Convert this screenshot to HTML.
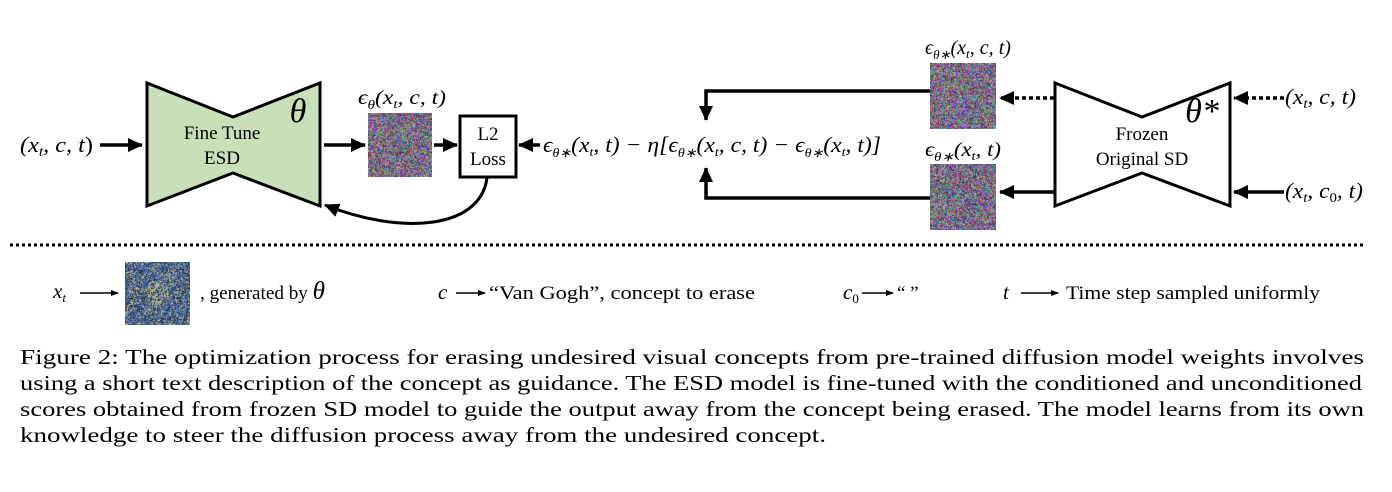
<!DOCTYPE html>
<html><head><meta charset="utf-8">
<style>
html,body{margin:0;padding:0;background:#fff;width:1392px;height:492px;overflow:hidden}
svg{position:absolute;left:0;top:0}
canvas{position:absolute}
svg text{font-family:"Liberation Serif","Times New Roman",serif !important;fill:#000}
.i{font-style:italic}
</style></head><body>
<svg width="1392" height="492" viewBox="0 0 1392 492">
<defs>
<marker id="as" markerWidth="8" markerHeight="8" refX="7" refY="4" orient="auto" markerUnits="userSpaceOnUse">
<path d="M0,1 L8,4 L0,7 z" fill="#000"/></marker>
<marker id="ab" markerWidth="16" markerHeight="16" refX="14" refY="8" orient="auto" markerUnits="userSpaceOnUse">
<path d="M0,1 L15,8 L0,15 z" fill="#000"/></marker>
</defs>
<text x="20" y="152" font-size="22" textLength="73" lengthAdjust="spacingAndGlyphs"><tspan class="i">(x</tspan><tspan class="i" font-size="14" dy="4">t</tspan><tspan dy="-4" class="i">, c, t</tspan>)</text>
<line x1="100" y1="145" x2="142" y2="145" stroke="#000" stroke-width="3.5" marker-end="url(#ab)"/>
<polygon points="147,83 233,117 320,83 320,206 233,173 147,206" fill="#c9dfba" stroke="#000" stroke-width="3"/>
<text x="298" y="122" font-size="34" class="i" text-anchor="middle">θ</text>
<text x="222" y="139" font-size="19" text-anchor="middle">Fine Tune</text>
<text x="222" y="164" font-size="19" text-anchor="middle">ESD</text>
<line x1="324" y1="145" x2="365" y2="145" stroke="#000" stroke-width="3.5" marker-end="url(#ab)"/>
<text x="358" y="104" font-size="20" class="i" textLength="88" lengthAdjust="spacingAndGlyphs">ϵ<tspan font-size="13" dy="5">θ</tspan><tspan dy="-5">(x</tspan><tspan font-size="13" dy="4">t</tspan><tspan dy="-4">, c, t)</tspan></text>
<line x1="434" y1="145" x2="457" y2="145" stroke="#000" stroke-width="3.5" marker-end="url(#ab)"/>
<rect x="460" y="116" width="56" height="61" fill="#fff" stroke="#000" stroke-width="3"/>
<text x="488" y="140" font-size="19" text-anchor="middle">L2</text>
<text x="488" y="165" font-size="19" text-anchor="middle">Loss</text>
<line x1="540" y1="145" x2="519" y2="145" stroke="#000" stroke-width="3.5" marker-end="url(#ab)"/>
<path d="M487,178 C480,230 400,235 325,205" fill="none" stroke="#000" stroke-width="3" marker-end="url(#ab)"/>
<text x="543" y="152" font-size="22" class="i" textLength="338" lengthAdjust="spacingAndGlyphs">ϵ<tspan font-size="13" dy="5">θ∗</tspan><tspan dy="-5">(x</tspan><tspan font-size="13" dy="4">t</tspan><tspan dy="-4">, t) − η[ϵ</tspan><tspan font-size="13" dy="5">θ∗</tspan><tspan dy="-5">(x</tspan><tspan font-size="13" dy="4">t</tspan><tspan dy="-4">, c, t) − ϵ</tspan><tspan font-size="13" dy="5">θ∗</tspan><tspan dy="-5">(x</tspan><tspan font-size="13" dy="4">t</tspan><tspan dy="-4">, t)]</tspan></text>
<polyline points="930,91 706,91 706,120" fill="none" stroke="#000" stroke-width="3.5" marker-end="url(#ab)"/>
<polyline points="930,198 706,198 706,168" fill="none" stroke="#000" stroke-width="3.5" marker-end="url(#ab)"/>
<text x="925" y="54" font-size="20" class="i" textLength="86" lengthAdjust="spacingAndGlyphs">ϵ<tspan font-size="13" dy="5">θ∗</tspan><tspan dy="-5">(x</tspan><tspan font-size="13" dy="4">t</tspan><tspan dy="-4">, c, t)</tspan></text>
<text x="925" y="156" font-size="20" class="i" textLength="76" lengthAdjust="spacingAndGlyphs">ϵ<tspan font-size="13" dy="5">θ∗</tspan><tspan dy="-5">(x</tspan><tspan font-size="13" dy="4">t</tspan><tspan dy="-4">, t)</tspan></text>
<line x1="1054" y1="98" x2="1000" y2="98" stroke="#000" stroke-width="3.5" stroke-dasharray="4,3" marker-end="url(#ab)"/>
<line x1="1054" y1="192" x2="1000" y2="192" stroke="#000" stroke-width="3.5" marker-end="url(#ab)"/>
<polygon points="1055,83 1142,117 1230,83 1230,206 1142,173 1055,206" fill="#fff" stroke="#000" stroke-width="3"/>
<text x="1202" y="122" font-size="34" class="i" text-anchor="middle">θ*</text>
<text x="1142" y="140" font-size="19" text-anchor="middle">Frozen</text>
<text x="1142" y="165" font-size="19" text-anchor="middle">Original SD</text>
<line x1="1284" y1="98" x2="1234" y2="98" stroke="#000" stroke-width="3.5" stroke-dasharray="4,3" marker-end="url(#ab)"/>
<line x1="1284" y1="192" x2="1234" y2="192" stroke="#000" stroke-width="3.5" marker-end="url(#ab)"/>
<text x="1285" y="104" font-size="22" class="i" textLength="71" lengthAdjust="spacingAndGlyphs">(x<tspan font-size="14" dy="4">t</tspan><tspan dy="-4">, c, t)</tspan></text>
<text x="1285" y="198" font-size="22" class="i" textLength="78" lengthAdjust="spacingAndGlyphs">(x<tspan font-size="14" dy="4">t</tspan><tspan dy="-4">, c</tspan><tspan font-size="14" dy="4" font-style="normal">0</tspan><tspan dy="-4">, t)</tspan></text>
<line x1="10" y1="245" x2="1365" y2="245" stroke="#000" stroke-width="3" stroke-dasharray="3,3"/>
<text x="53" y="298" font-size="21" class="i">x<tspan font-size="13" dy="4">t</tspan></text>
<line x1="80" y1="293" x2="118" y2="293" stroke="#000" stroke-width="1.5" marker-end="url(#as)"/>
<text x="200" y="299" font-size="19" textLength="125" lengthAdjust="spacingAndGlyphs">, generated by <tspan class="i" font-size="25">θ</tspan></text>
<text x="438" y="299" font-size="21" class="i">c</text>
<line x1="456" y1="293" x2="485" y2="293" stroke="#000" stroke-width="1.5" marker-end="url(#as)"/>
<text x="489" y="299" font-size="19" textLength="266" lengthAdjust="spacingAndGlyphs">“Van Gogh”, concept to erase</text>
<text x="843" y="299" font-size="21" class="i">c<tspan font-size="13" dy="4" font-style="normal">0</tspan></text>
<line x1="862" y1="293" x2="893" y2="293" stroke="#000" stroke-width="1.5" marker-end="url(#as)"/>
<text x="897" y="299" font-size="19">“ ”</text>
<text x="1003" y="299" font-size="21" class="i">t</text>
<line x1="1021" y1="293" x2="1058" y2="293" stroke="#000" stroke-width="1.5" marker-end="url(#as)"/>
<text x="1066" y="299" font-size="19" textLength="254" lengthAdjust="spacingAndGlyphs">Time step sampled uniformly</text>
<text x="20" y="364" font-size="21.5" textLength="1344" lengthAdjust="spacingAndGlyphs">Figure 2: The optimization process for erasing undesired visual concepts from pre-trained diffusion model weights involves</text>
<text x="20" y="390" font-size="21.5" textLength="1342" lengthAdjust="spacingAndGlyphs">using a short text description of the concept as guidance. The ESD model is fine-tuned with the conditioned and unconditioned</text>
<text x="20" y="416" font-size="21.5" textLength="1344" lengthAdjust="spacingAndGlyphs">scores obtained from frozen SD model to guide the output away from the concept being erased. The model learns from its own</text>
<text x="20" y="442" font-size="21.5" textLength="806" lengthAdjust="spacingAndGlyphs">knowledge to steer the diffusion process away from the undesired concept.</text>
</svg>
<canvas id="n1" width="64" height="64" style="left:368px;top:113px"></canvas>
<canvas id="n2" width="66" height="66" style="left:930px;top:63px"></canvas>
<canvas id="n3" width="66" height="66" style="left:930px;top:164px"></canvas>
<canvas id="vg" width="65" height="63" style="left:125px;top:262px"></canvas>
<script>
function noise(id){var c=document.getElementById(id),x=c.getContext('2d');var im=x.createImageData(c.width,c.height);for(var i=0;i<im.data.length;i+=4){im.data[i]=Math.random()*200+20;im.data[i+1]=Math.random()*180+20;im.data[i+2]=Math.random()*200+30;im.data[i+3]=255;}x.putImageData(im,0,0);}
noise('n1');noise('n2');noise('n3');
(function(){var c=document.getElementById('vg'),x=c.getContext('2d');var im=x.createImageData(c.width,c.height);for(var yy=0;yy<c.height;yy++)for(var xx=0;xx<c.width;xx++){var i=(yy*c.width+xx)*4;var r=Math.random();var col;var dx=xx-32,dy=yy-30;var near=dx*dx+dy*dy<150;if(r<(near?0.35:0.15))col=[200,190,110];else if(r<0.55)col=[60,90,150];else if(r<0.8)col=[110,140,180];else col=[30,40,60];im.data[i]=col[0]+Math.random()*30-15;im.data[i+1]=col[1]+Math.random()*30-15;im.data[i+2]=col[2]+Math.random()*30-15;im.data[i+3]=255;}x.putImageData(im,0,0);})();
</script>
</body></html>
